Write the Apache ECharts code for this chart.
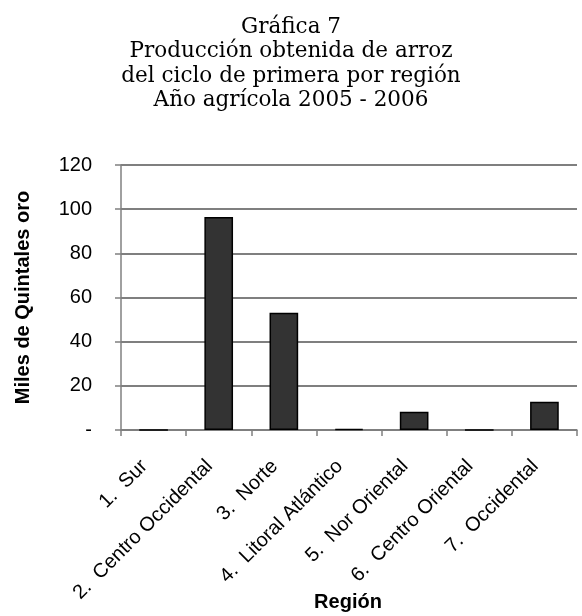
<!DOCTYPE html>
<html>
<head>
<meta charset="UTF-8">
<title>Gráfica 7</title>
<script type="text/javascript" src="https://cdn.jsdelivr.net/npm/echarts@6/dist/echarts.min.js"></script>
<style>
  html, body { margin: 0; padding: 0; background: #fff; }
  #chart { width: 582px; height: 616px; }
</style>
</head>
<body>
<div id="chart"></div>
<script type="text/javascript">
// datos
var regiones = ['1.  Sur', '2.  Centro Occidental', '3.  Norte', '4.  Litoral Atlántico',
                '5.  Nor Oriental', '6.  Centro Oriental', '7.  Occidental'];
var produccion = [0, 96.5, 53.1, 0.5, 8.3, 0, 12.8];
var yTicks = [0, 20, 40, 60, 80, 100, 120];

var myChart = echarts.init(document.getElementById('chart'));
myChart.setOption({
    animation: false,
    title: [{
        text: 'Gráfica 7\nProducción obtenida de arroz\ndel ciclo de primera por región\nAño agrícola 2005 - 2006',
        left: 'center',
        top: 10,
        textStyle: {
            fontFamily: 'DejaVu Serif',
            fontWeight: 'normal',
            fontSize: 21.5,
            lineHeight: 24.5,
            color: '#000'
        }
    }, {
        // titulo del eje x (el nombre del eje se desplaza por las etiquetas)
        text: 'Región',
        left: 348,
        textAlign: 'center',
        top: 592,
        padding: 0,
        textStyle: { fontFamily: 'Liberation Sans', fontWeight: 'bold', fontSize: 20, color: '#000' }
    }],
    grid: { left: 121, right: 5, top: 165, bottom: 186, outerBoundsMode: 'none', containLabel: false },
    xAxis: {
        type: 'category',
        data: regiones,
        axisLine: { lineStyle: { color: '#808080', width: 1.5 } },
        axisTick: { show: true, length: 6, lineStyle: { color: '#808080', width: 1.5 } },
        axisLabel: {
            rotate: 45,
            interval: 0,
            margin: 24,
            padding: [0, 13, 0, 0],
            fontFamily: 'Liberation Sans',
            fontSize: 20,
            color: '#000'
        }
    },
    yAxis: {
        type: 'value',
        min: yTicks[0],
        max: yTicks[yTicks.length - 1],
        interval: 20,
        name: 'Miles de Quintales oro',
        nameLocation: 'middle',
        nameGap: 88,
        nameTextStyle: { fontFamily: 'Liberation Sans', fontWeight: 'bold', fontSize: 20, color: '#000' },
        axisLine: { show: true, lineStyle: { color: '#808080', width: 1.5 } },
        axisTick: { show: true, length: 6, lineStyle: { color: '#808080', width: 1.5 } },
        splitLine: { show: true, lineStyle: { color: '#555', width: 1.5 } },
        axisLabel: {
            margin: 29,
            fontFamily: 'Liberation Sans',
            fontSize: 20,
            color: '#000',
            formatter: function (v) { return v === 0 ? '-' : v; }
        }
    },
    series: [{
        type: 'bar',
        data: produccion,
        barWidth: '44%',
        itemStyle: { color: '#333333', borderColor: '#000', borderWidth: 1.5 }
    }]
});
</script>
</body>
</html>
